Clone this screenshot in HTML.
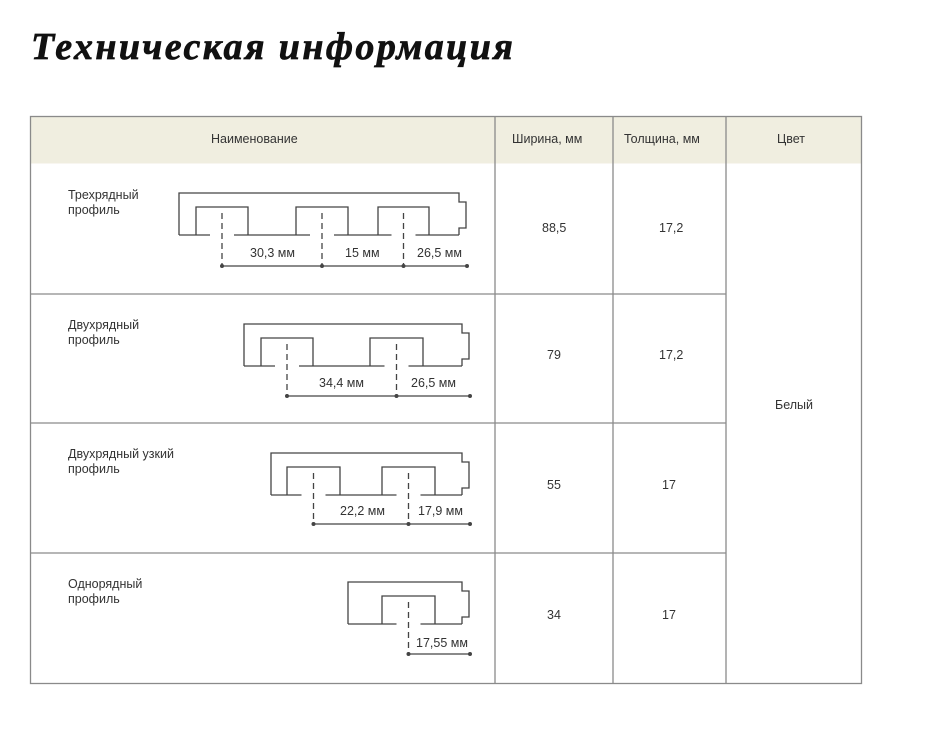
<!DOCTYPE html>
<html><head><meta charset="utf-8"><style>
body{margin:0;background:#fff;width:926px;height:745px;overflow:hidden;font-family:"Liberation Sans",sans-serif;}
h1{position:absolute;left:31px;top:25px;margin:0;font:italic bold 38px "Liberation Serif",serif;color:#111;letter-spacing:2.4px;white-space:nowrap;-webkit-text-stroke:0.7px #111}
.t{position:absolute;font-size:12.5px;color:#333;}
</style></head><body>
<h1>Техническая информация</h1>
<svg width="926" height="745" style="position:absolute;left:0;top:0" id="s">
<rect x="30.5" y="116.5" width="831" height="47" fill="#f0eee0"/>
<g stroke="#8a8a8a" stroke-width="1.3" fill="none">
<rect x="30.5" y="116.5" width="831" height="567"/>
<line x1="30" y1="294" x2="726" y2="294"/><line x1="30" y1="423" x2="726" y2="423"/><line x1="30" y1="553" x2="726" y2="553"/>
<line x1="495" y1="116" x2="495" y2="684"/><line x1="613" y1="116" x2="613" y2="684"/><line x1="726" y1="116" x2="726" y2="684"/>
</g>
<g id="p" stroke="#444" stroke-width="1.3" fill="none"></g>
<g id="d" fill="#444"></g>
</svg>
<div class="t" style="left:211px;top:132px">Наименование</div>
<div class="t" style="left:512px;top:132px">Ширина, мм</div>
<div class="t" style="left:624px;top:132px">Толщина, мм</div>
<div class="t" style="left:777px;top:132px">Цвет</div>
<div class="t" style="left:68px;top:188px;line-height:15px">Трехрядный<br>профиль</div>
<div class="t" style="left:68px;top:318px;line-height:15px">Двухрядный<br>профиль</div>
<div class="t" style="left:68px;top:447px;line-height:15px">Двухрядный узкий<br>профиль</div>
<div class="t" style="left:68px;top:577px;line-height:15px">Однорядный<br>профиль</div>
<div class="t" style="left:542px;top:221px">88,5</div><div class="t" style="left:659px;top:221px">17,2</div>
<div class="t" style="left:547px;top:348px">79</div><div class="t" style="left:659px;top:348px">17,2</div>
<div class="t" style="left:547px;top:478px">55</div><div class="t" style="left:662px;top:478px">17</div>
<div class="t" style="left:547px;top:608px">34</div><div class="t" style="left:662px;top:608px">17</div>
<div class="t" style="left:775px;top:398px">Белый</div>
<div class="t" style="left:250px;top:246px">30,3 мм</div><div class="t" style="left:345px;top:246px">15 мм</div><div class="t" style="left:417px;top:246px">26,5 мм</div>
<div class="t" style="left:319px;top:376px">34,4 мм</div><div class="t" style="left:411px;top:376px">26,5 мм</div>
<div class="t" style="left:340px;top:504px">22,2 мм</div><div class="t" style="left:418px;top:504px">17,9 мм</div>
<div class="t" style="left:416px;top:636px">17,55 мм</div>
<script>
var P=document.getElementById('p'),D=document.getElementById('d'),ns='http://www.w3.org/2000/svg';
function el(g,t,a){var e=document.createElementNS(ns,t);for(var k in a)e.setAttribute(k,a[k]);g.appendChild(e);}
function prof(L,T,R,ch,dy){var B=T+42,ct=T+14;
 var d='M'+R+' '+B+' L'+R+' '+(T+35)+' L'+(R+7)+' '+(T+35)+' L'+(R+7)+' '+(T+9)+' L'+R+' '+(T+9)+' L'+R+' '+T+' L'+L+' '+T+' L'+L+' '+B;
 var x=L;
 ch.forEach(function(c){var cl=c[0],cr=c[1],cx=(cl+cr)/2;
  d+=' M'+x+' '+B+' L'+(cx-12)+' '+B+' M'+cl+' '+B+' L'+cl+' '+ct+' L'+cr+' '+ct+' L'+cr+' '+B+' M'+(cx+12)+' '+B;x=cx+12;
  el(P,'line',{x1:cx,y1:ct+6,x2:cx,y2:dy,'stroke-dasharray':'6,4'});});
 d+=' L'+R+' '+B;
 el(P,'path',{d:d});
 var xs=ch.map(function(c){return (c[0]+c[1])/2;});xs.push(R+8);
 el(P,'line',{x1:xs[0],y1:dy,x2:R+8,y2:dy});
 xs.forEach(function(x){el(D,'circle',{cx:x,cy:dy,r:2});});
}
prof(179,193,459,[[196,248],[296,348],[378,429]],266);
prof(244,324,462,[[261,313],[370,423]],396);
prof(271,453,462,[[287,340],[382,435]],524);
prof(348,582,462,[[382,435]],654);
</script>
</body></html>
